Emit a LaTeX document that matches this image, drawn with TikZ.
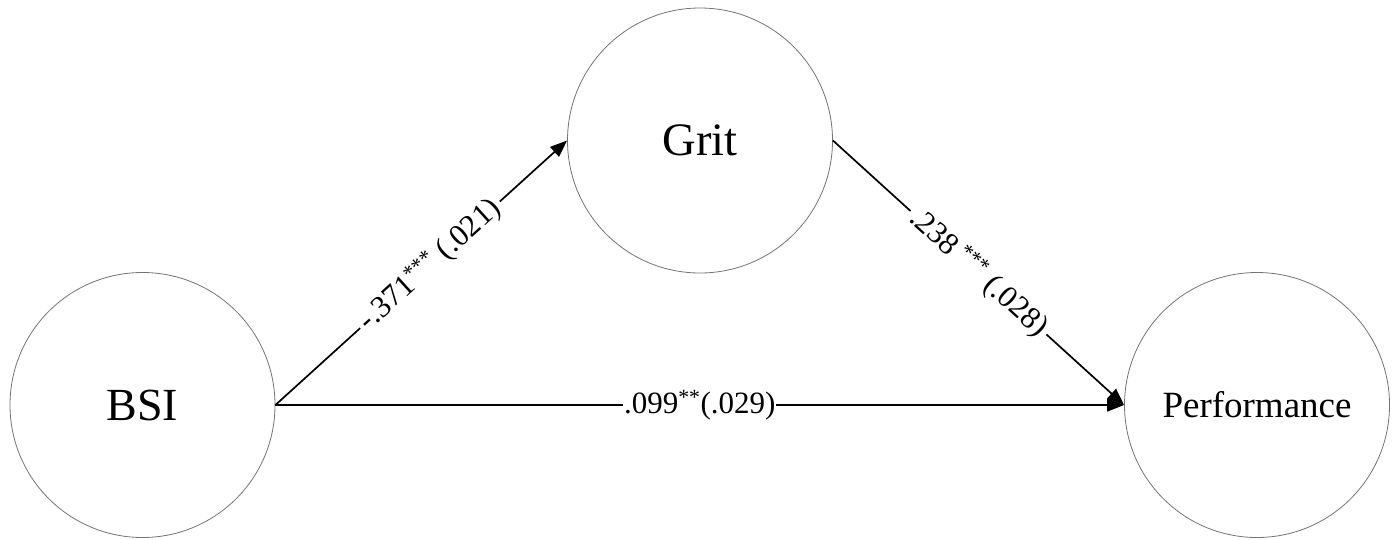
\documentclass[tikz,border=0pt]{standalone}
\usepackage{fontspec}
\setmainfont{Liberation Serif}
\usetikzlibrary{arrows.meta}
\begin{document}
\begin{tikzpicture}[x=1pt,y=-1pt,
  latent/.style={circle,draw=black!55,line width=0.8pt,minimum size=265pt,inner sep=0pt},
  path/.style={line width=1.7pt,-{Triangle[length=17pt,width=13pt]}},
  coef/.style={fill=white,inner sep=4pt,font=\fontsize{31}{34}\selectfont}]
\useasboundingbox (0,0) rectangle (1396,540);
\node[latent,font=\fontsize{46}{50}\selectfont] (bsi) at (142.5,405) {BSI};
\node[latent,font=\fontsize{46.5}{50}\selectfont] (grit) at (700,140.5) {Grit};
\node[latent,font=\fontsize{37}{40}\selectfont] (perf) at (1257,405) {Performance};
\draw[path] (bsi.east) -- node[coef,sloped,pos=0.53] (c1) {-.371\textsuperscript{***} (.021)} (grit.west);
\draw[path] (grit.east) -- node[coef,sloped] (c2) {.238\,\textsuperscript{***} (.028)} (perf.west);
\draw[path] (bsi.east) -- node[coef,inner sep=1pt] (c3) {.099\textsuperscript{**}(.029)} (perf.west);
\end{tikzpicture}
\end{document}
